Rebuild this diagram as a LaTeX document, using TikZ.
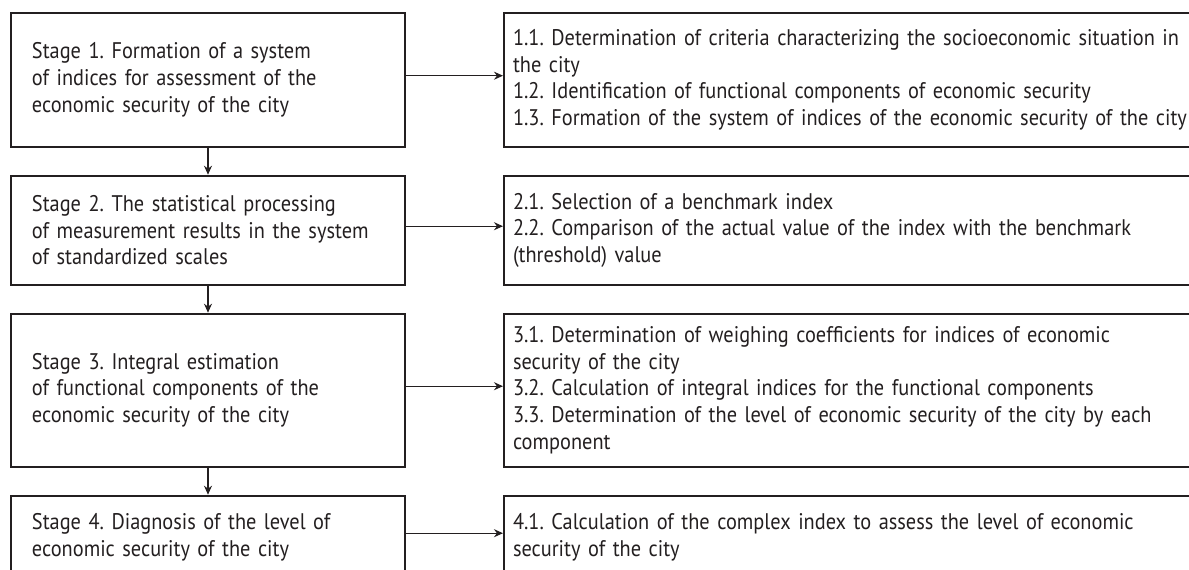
\documentclass[tikz,border=0pt]{standalone}
\usepackage{fontspec}
\setmainfont{PT Sans}[FakeStretch=0.9]
\usetikzlibrary{shapes,arrows.meta,positioning}

\definecolor{boxgray}{HTML}{231F20}

\tikzset{
    stage/.style={draw=boxgray, line width=1pt, text=boxgray, align=left,
        text width=176pt, inner xsep=10.5pt, inner ysep=0pt,
        font=\fontsize{11.3}{13.35}\selectfont\frenchspacing},
    task/.style={stage, text width=360pt, inner xsep=4.5pt},
    flow/.style={-{Stealth[length=4.5pt,width=4pt]}, line width=0.65pt, draw=boxgray}
}

\begin{document}
\begin{tikzpicture}[x=0.5pt, y=-0.5pt, node distance=13.5pt]
        \useasboundingbox (0,0) rectangle (1189,569);
        \clip (0,0) rectangle (1189,569);
        % stages
        \node[stage, minimum height=67pt] (s1) at (208,79.7)
            {Stage 1. Formation of a system\\ of indices for assessment of the\\ economic security of the city};
        \node[stage, minimum height=54.5pt, below=of s1] (s2)
            {Stage 2. The statistical processing\\ of measurement results in the system\\ of standardized scales};
        \node[stage, minimum height=76.5pt, below=of s2] (s3)
            {Stage 3. Integral estimation\\ of functional components of the\\ economic security of the city};
        \node[stage, minimum height=41.5pt, below=of s3] (s4)
            {Stage 4. Diagnosis of the level of\\ economic security of the city};
        % tasks of each stage
        \node[task, minimum height=67pt, right=48.5pt of s1] (t1)
            {1.1. Determination of criteria characterizing the socioeconomic situation in\\ the city\\ 1.2. Identification of functional components of economic security\\ 1.3. Formation of the system of indices of the economic security of the city};
        \node[task, minimum height=54.5pt, right=48.5pt of s2] (t2)
            {2.1. Selection of a benchmark index\\ 2.2. Comparison of the actual value of the index with the benchmark\\ (threshold) value};
        \node[task, minimum height=76.5pt, right=48.5pt of s3] (t3)
            {3.1. Determination of weighing coefficients for indices of economic\\ security of the city\\ 3.2. Calculation of integral indices for the functional components\\ 3.3. Determination of the level of economic security of the city by each\\ component};
        \node[task, minimum height=41.5pt, right=48.5pt of s4] (t4)
            {4.1. Calculation of the complex index to assess the level of economic\\ security of the city};
        \foreach \i in {1,...,4}
            \draw[flow] ([yshift=2pt]s\i.east) -- ([yshift=2pt]t\i.west);
        \foreach \i/\j in {1/2,2/3,3/4}
            \draw[flow] (s\i.south) -- (s\j.north);
\end{tikzpicture}
\end{document}
